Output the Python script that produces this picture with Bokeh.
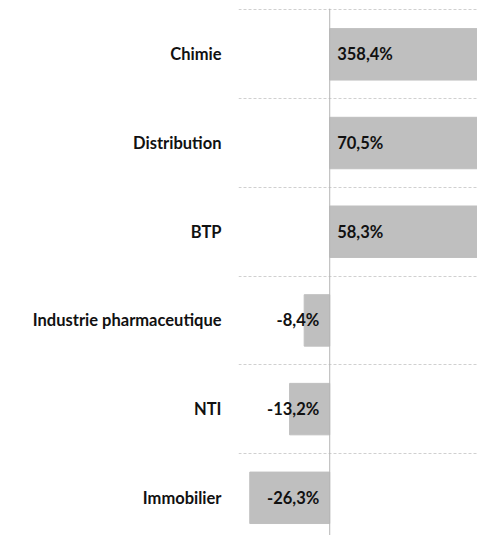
from bokeh.plotting import figure
from bokeh.models import Range1d, FixedTicker, ColumnDataSource
from bokeh.core.properties import value
from bokeh.embed import file_html
from bokeh.resources import INLINE

categories = ["Chimie", "Distribution", "BTP", "Industrie pharmaceutique", "NTI", "Immobilier"]
values = [358.4, 70.5, 58.3, -8.4, -13.2, -26.3]
value_labels = ["358,4%", "70,5%", "58,3%", "-8,4%", "-13,2%", "-26,3%"]

n = len(categories)
ypos = [n - 1 - i for i in range(n)]

FONT = "Lato"
FSIZE = "16.5px"

y_lo, y_hi = -0.425, 5.607
p = figure(width=477, height=535, output_backend="svg", toolbar_location=None,
           x_range=Range1d(-30, 48.6), y_range=Range1d(y_lo, y_hi),
           x_axis_location=None, min_border_left=238, min_border_right=0,
           min_border_top=0, min_border_bottom=0)
p.outline_line_color = None
p.xgrid.visible = False

p.ygrid.ticker = FixedTicker(ticks=[y + 0.5 for y in ypos])
p.ygrid.grid_line_color = "#d0d0d0"
p.ygrid.grid_line_dash = "3 2"
p.ygrid.grid_line_width = 1

src = ColumnDataSource(dict(y=ypos, v=values, lab=value_labels, cat=categories))
p.hbar(y="y", left=0, right="v", height=0.58, color="#bfbfbf", source=src)

# zero axis line, starting just above the top gridline
p.segment(x0=0, y0=y_lo, x1=0, y1=max(ypos) + 0.515, line_color="#b4b4b4", line_width=1)

pos = ColumnDataSource(dict(y=[y for y, v in zip(ypos, values) if v >= 0],
                            lab=[l for l, v in zip(value_labels, values) if v >= 0]))
neg = ColumnDataSource(dict(y=[y for y, v in zip(ypos, values) if v < 0],
                            lab=[l for l, v in zip(value_labels, values) if v < 0]))
p.text(x=0, y="y", text="lab", source=pos, x_offset=7.5, text_align="left",
       text_baseline="middle", text_font=value(FONT), text_font_style="bold",
       text_font_size=FSIZE, text_color="#111111")
p.text(x=0, y="y", text="lab", source=neg, x_offset=-10.5, text_align="right",
       text_baseline="middle", text_font=value(FONT), text_font_style="bold",
       text_font_size=FSIZE, text_color="#111111")

p.yaxis.ticker = FixedTicker(ticks=ypos)
p.yaxis.major_label_overrides = {y: c for y, c in zip(ypos, categories)}
p.yaxis.axis_line_color = None
p.yaxis.major_tick_line_color = None
p.yaxis.minor_tick_line_color = None
p.yaxis.major_tick_out = 0
p.yaxis.major_label_standoff = 17
p.yaxis.major_label_text_font = FONT
p.yaxis.major_label_text_font_style = "bold"
p.yaxis.major_label_text_font_size = FSIZE
p.yaxis.major_label_text_color = "#111111"

open("out.html", "w").write(file_html(p, INLINE))
